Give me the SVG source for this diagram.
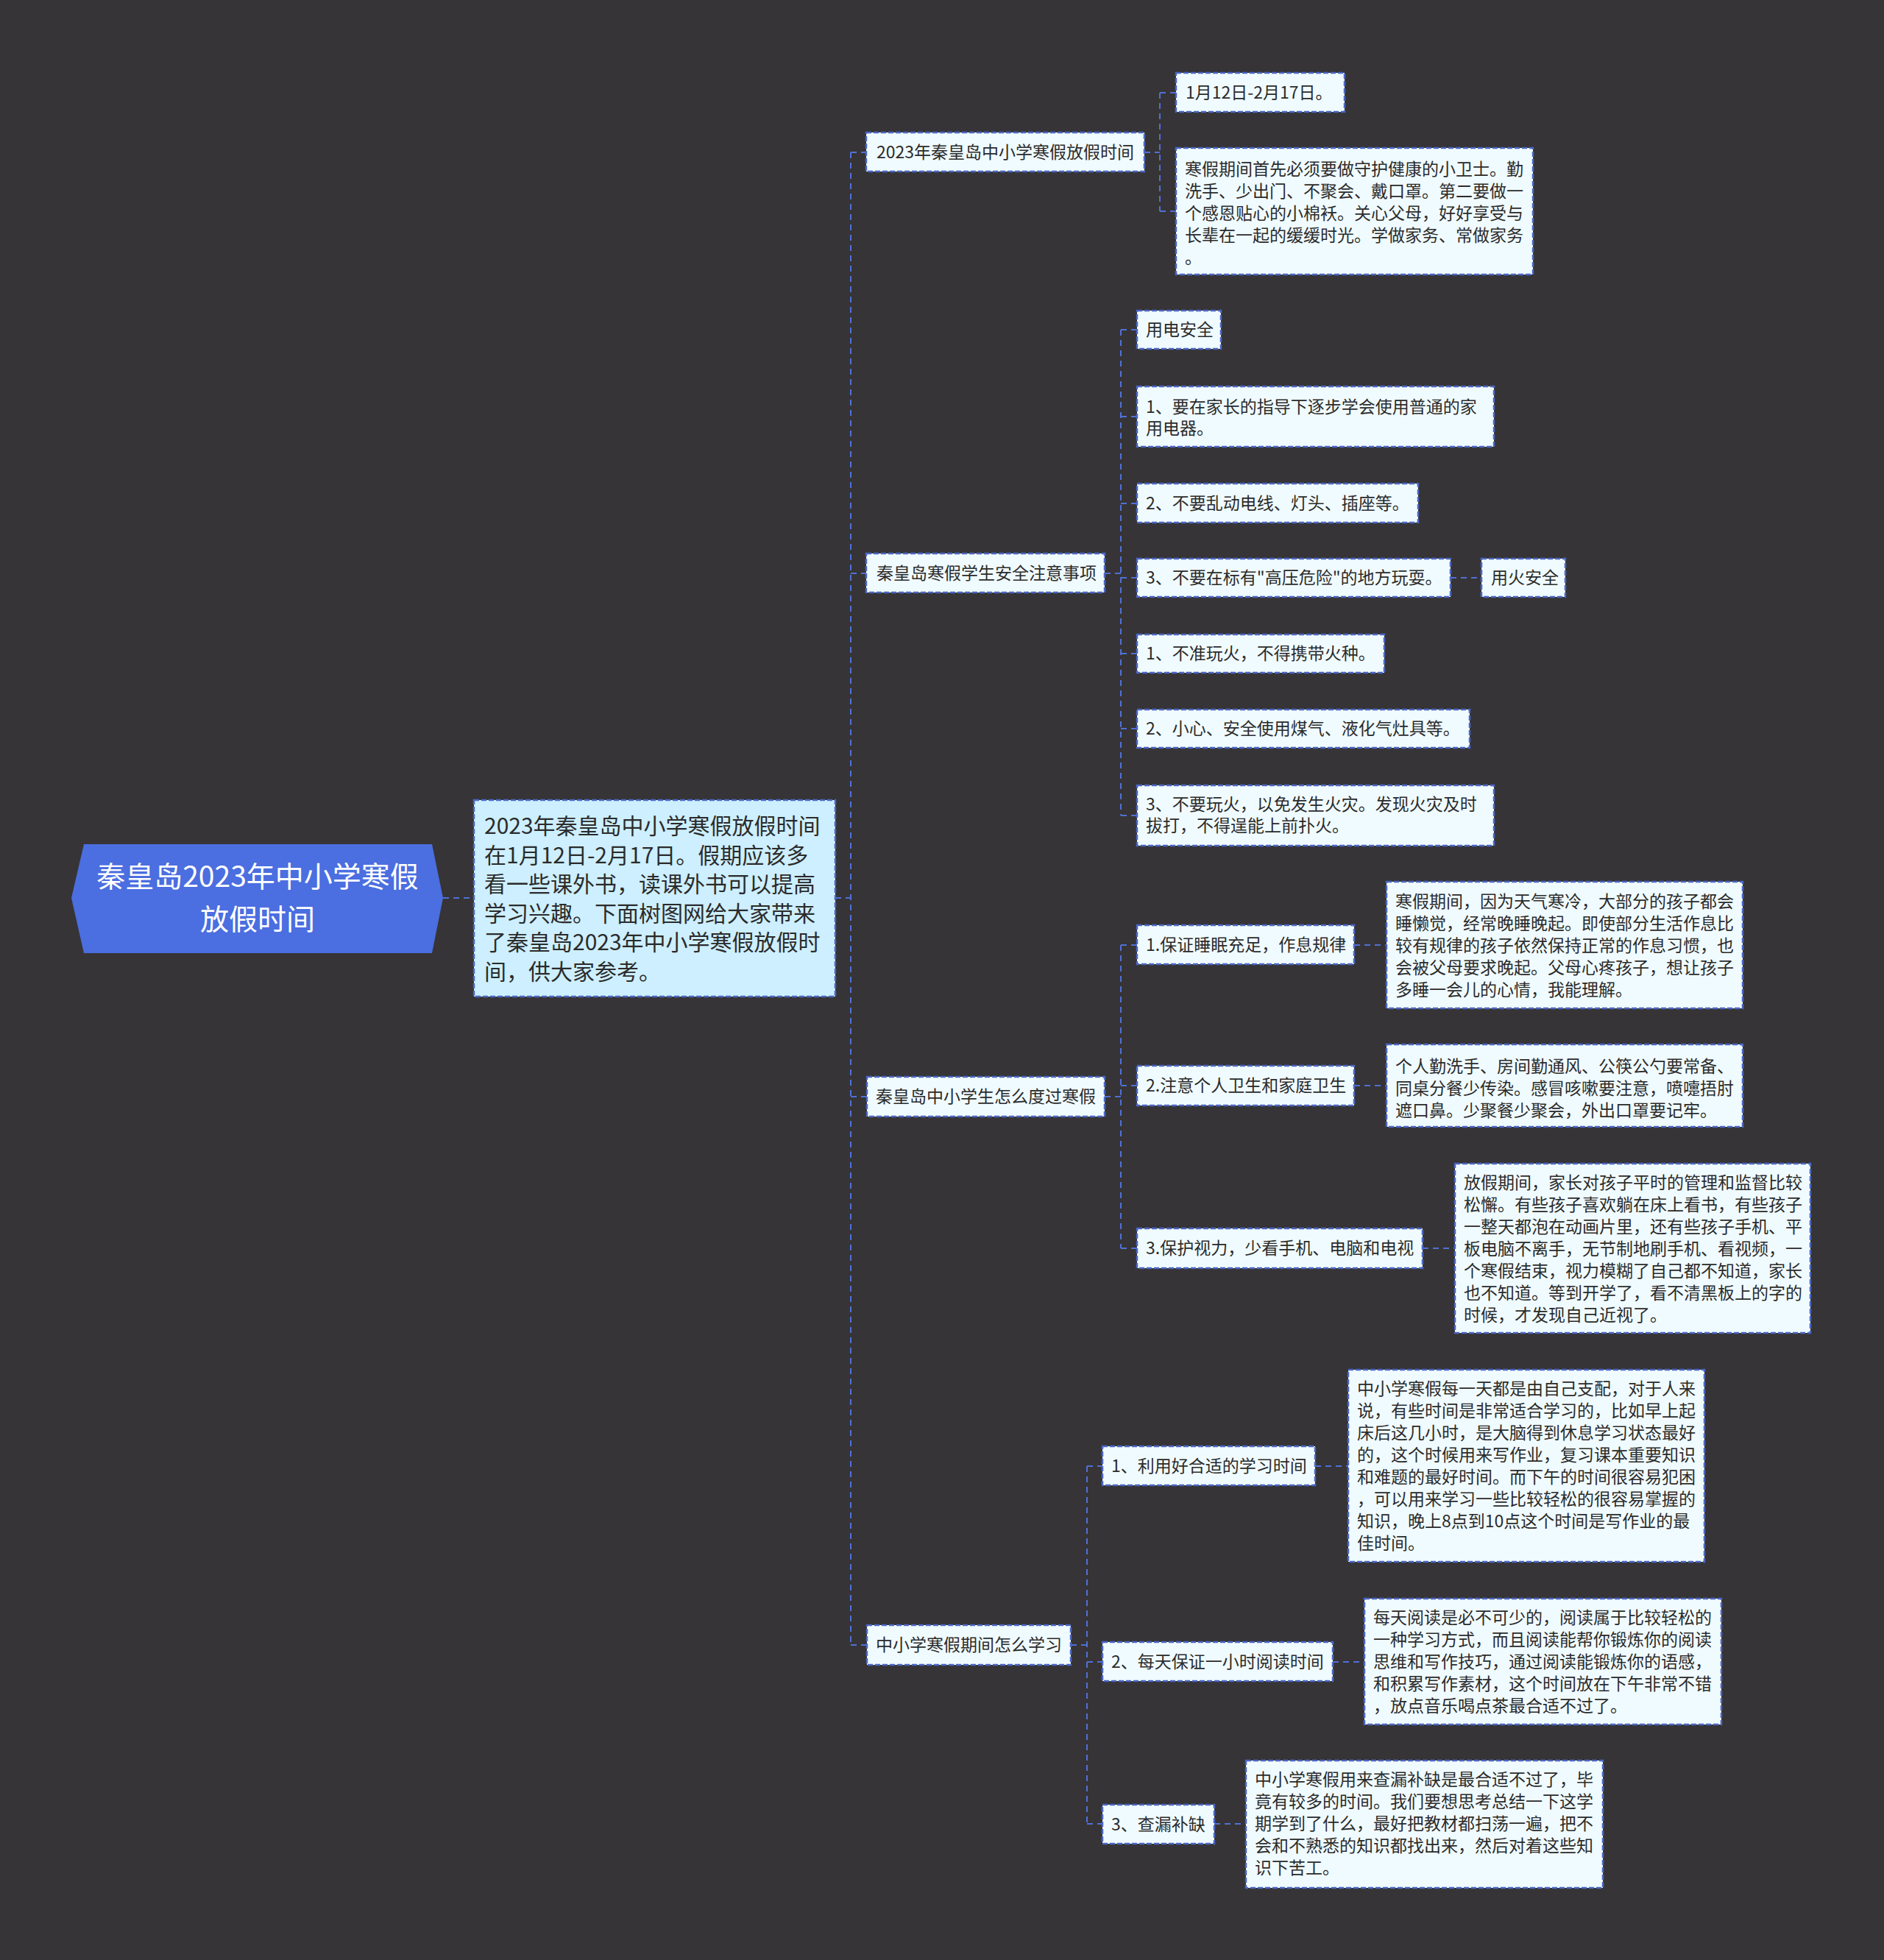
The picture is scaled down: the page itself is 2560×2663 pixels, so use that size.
<svg xmlns="http://www.w3.org/2000/svg" width="2560" height="2663" viewBox="0 0 2560 2663">
<style>
.bg{fill:#363436}
.box{fill:#f0fbff;stroke:#4a66c4;stroke-width:2.5;stroke-dasharray:7 3}
.main{fill:#cdefff;stroke:#4a66c4;stroke-width:2.5;stroke-dasharray:7 3}
.t{font-family:"Noto Sans CJK SC","Noto Sans",sans-serif;font-size:23px;fill:#2b2b2b}
.tm{font-family:"Noto Sans CJK SC","Noto Sans",sans-serif;font-size:30px;fill:#2b2b2b}
.tr{font-family:"Noto Sans CJK SC","Noto Sans",sans-serif;font-size:39px;fill:#ffffff;text-anchor:middle}
.c{fill:none;stroke:#5070d8;stroke-width:2;stroke-dasharray:8 6}
</style>
<rect class="bg" x="0" y="0" width="2560" height="2663"/>
<g id="connectors">
<path class="c" d="M602 1220H644"/>
<path class="c" d="M1135 1220H1156M1156 207V2235M1156 207H1177M1156 779H1177M1156 1490H1178M1156 2235H1178"/>
<path class="c" d="M1555 207H1576M1576 126V287M1576 126H1598M1576 287H1598"/>
<path class="c" d="M1501 779H1523M1523 448V1108M1523 448H1545M1523 566H1545M1523 684H1545M1523 785H1545M1523 888H1545M1523 990H1545M1523 1108H1545M1971 785H2013"/>
<path class="c" d="M1501 1490H1523M1523 1284V1696M1523 1284H1545M1523 1475H1545M1523 1696H1545M1840 1284H1884M1840 1475H1884M1933 1696H1977"/>
<path class="c" d="M1455 2235H1477M1477 1992V2478M1477 1992H1498M1477 2258H1498M1477 2478H1498M1787 1992H1832M1811 2258H1854M1650 2478H1693"/>
</g>
<g id="root">
<polygon points="97,1220 114,1147 587,1147 602,1220 587,1295 114,1295" fill="#4b6ee0"/>
<text class="tr" x="350" y="1205">秦皇岛2023年中小学寒假</text>
<text class="tr" x="350" y="1263">放假时间</text>
</g>
<g id="intro">
<rect class="main" x="644" y="1087" width="491" height="267"/>
<text class="tm" x="658" y="1133">2023年秦皇岛中小学寒假放假时间</text>
<text class="tm" x="658" y="1173">在1月12日-2月17日。假期应该多</text>
<text class="tm" x="658" y="1212">看一些课外书，读课外书可以提高</text>
<text class="tm" x="658" y="1252">学习兴趣。下面树图网给大家带来</text>
<text class="tm" x="658" y="1291">了秦皇岛2023年中小学寒假放假时</text>
<text class="tm" x="658" y="1331">间，供大家参考。</text>
</g>
<g id="n1">
<rect class="box" x="1177" y="180" width="378" height="53"/>
<text class="t" x="1191" y="215">2023年秦皇岛中小学寒假放假时间</text>
</g>
<g id="n1a">
<rect class="box" x="1598" y="99" width="229" height="53"/>
<text class="t" x="1611" y="134">1月12日-2月17日。</text>
</g>
<g id="n1b">
<rect class="box" x="1598" y="201" width="485" height="172"/>
<text class="t" x="1610" y="238">寒假期间首先必须要做守护健康的小卫士。勤</text>
<text class="t" x="1610" y="268">洗手、少出门、不聚会、戴口罩。第二要做一</text>
<text class="t" x="1610" y="298">个感恩贴心的小棉袄。关心父母，好好享受与</text>
<text class="t" x="1610" y="328">长辈在一起的缓缓时光。学做家务、常做家务</text>
<text class="t" x="1610" y="358">。</text>
</g>
<g id="n2">
<rect class="box" x="1177" y="752" width="324" height="53"/>
<text class="t" x="1191" y="787">秦皇岛寒假学生安全注意事项</text>
</g>
<g id="n2a">
<rect class="box" x="1545" y="422" width="114" height="52"/>
<text class="t" x="1557" y="456">用电安全</text>
</g>
<g id="n2b">
<rect class="box" x="1545" y="525" width="485" height="82"/>
<text class="t" x="1557" y="561">1、要在家长的指导下逐步学会使用普通的家</text>
<text class="t" x="1557" y="590">用电器。</text>
</g>
<g id="n2c">
<rect class="box" x="1545" y="657" width="382" height="53"/>
<text class="t" x="1557" y="692">2、不要乱动电线、灯头、插座等。</text>
</g>
<g id="n2d">
<rect class="box" x="1545" y="759" width="426" height="52"/>
<text class="t" x="1557" y="793">3、不要在标有"高压危险"的地方玩耍。</text>
</g>
<g id="n2d1">
<rect class="box" x="2013" y="759" width="114" height="52"/>
<text class="t" x="2026" y="793">用火安全</text>
</g>
<g id="n2e">
<rect class="box" x="1545" y="862" width="336" height="52"/>
<text class="t" x="1557" y="896">1、不准玩火，不得携带火种。</text>
</g>
<g id="n2f">
<rect class="box" x="1545" y="964" width="452" height="52"/>
<text class="t" x="1557" y="998">2、小心、安全使用煤气、液化气灶具等。</text>
</g>
<g id="n2g">
<rect class="box" x="1545" y="1067" width="485" height="82"/>
<text class="t" x="1557" y="1101">3、不要玩火，以免发生火灾。发现火灾及时</text>
<text class="t" x="1557" y="1130">拔打，不得逞能上前扑火。</text>
</g>
<g id="n3">
<rect class="box" x="1178" y="1463" width="323" height="54"/>
<text class="t" x="1190" y="1498">秦皇岛中小学生怎么度过寒假</text>
</g>
<g id="n3a">
<rect class="box" x="1545" y="1257" width="295" height="53"/>
<text class="t" x="1557" y="1292">1.保证睡眠充足，作息规律</text>
</g>
<g id="n3a1">
<rect class="box" x="1884" y="1198" width="484" height="172"/>
<text class="t" x="1896" y="1233">寒假期间，因为天气寒冷，大部分的孩子都会</text>
<text class="t" x="1896" y="1263">睡懒觉，经常晚睡晚起。即使部分生活作息比</text>
<text class="t" x="1896" y="1293">较有规律的孩子依然保持正常的作息习惯，也</text>
<text class="t" x="1896" y="1323">会被父母要求晚起。父母心疼孩子，想让孩子</text>
<text class="t" x="1896" y="1353">多睡一会儿的心情，我能理解。</text>
</g>
<g id="n3b">
<rect class="box" x="1545" y="1448" width="295" height="54"/>
<text class="t" x="1557" y="1483">2.注意个人卫生和家庭卫生</text>
</g>
<g id="n3b1">
<rect class="box" x="1884" y="1419" width="484" height="112"/>
<text class="t" x="1896" y="1457">个人勤洗手、房间勤通风、公筷公勺要常备、</text>
<text class="t" x="1896" y="1487">同桌分餐少传染。感冒咳嗽要注意，喷嚏捂肘</text>
<text class="t" x="1896" y="1517">遮口鼻。少聚餐少聚会，外出口罩要记牢。</text>
</g>
<g id="n3c">
<rect class="box" x="1545" y="1669" width="388" height="54"/>
<text class="t" x="1557" y="1704">3.保护视力，少看手机、电脑和电视</text>
</g>
<g id="n3c1">
<rect class="box" x="1977" y="1581" width="483" height="230"/>
<text class="t" x="1989" y="1615">放假期间，家长对孩子平时的管理和监督比较</text>
<text class="t" x="1989" y="1645">松懈。有些孩子喜欢躺在床上看书，有些孩子</text>
<text class="t" x="1989" y="1675">一整天都泡在动画片里，还有些孩子手机、平</text>
<text class="t" x="1989" y="1705">板电脑不离手，无节制地刷手机、看视频，一</text>
<text class="t" x="1989" y="1735">个寒假结束，视力模糊了自己都不知道，家长</text>
<text class="t" x="1989" y="1765">也不知道。等到开学了，看不清黑板上的字的</text>
<text class="t" x="1989" y="1795">时候，才发现自己近视了。</text>
</g>
<g id="n4">
<rect class="box" x="1178" y="2208" width="277" height="54"/>
<text class="t" x="1190" y="2243">中小学寒假期间怎么学习</text>
</g>
<g id="n4a">
<rect class="box" x="1498" y="1965" width="289" height="53"/>
<text class="t" x="1510" y="2000">1、利用好合适的学习时间</text>
</g>
<g id="n4a1">
<rect class="box" x="1832" y="1861" width="484" height="261"/>
<text class="t" x="1844" y="1895">中小学寒假每一天都是由自己支配，对于人来</text>
<text class="t" x="1844" y="1925">说，有些时间是非常适合学习的，比如早上起</text>
<text class="t" x="1844" y="1955">床后这几小时，是大脑得到休息学习状态最好</text>
<text class="t" x="1844" y="1985">的，这个时候用来写作业，复习课本重要知识</text>
<text class="t" x="1844" y="2015">和难题的最好时间。而下午的时间很容易犯困</text>
<text class="t" x="1844" y="2045">，可以用来学习一些比较轻松的很容易掌握的</text>
<text class="t" x="1844" y="2075">知识，晚上8点到10点这个时间是写作业的最</text>
<text class="t" x="1844" y="2105">佳时间。</text>
</g>
<g id="n4b">
<rect class="box" x="1498" y="2231" width="313" height="53"/>
<text class="t" x="1510" y="2266">2、每天保证一小时阅读时间</text>
</g>
<g id="n4b1">
<rect class="box" x="1854" y="2172" width="485" height="171"/>
<text class="t" x="1866" y="2206">每天阅读是必不可少的，阅读属于比较轻松的</text>
<text class="t" x="1866" y="2236">一种学习方式，而且阅读能帮你锻炼你的阅读</text>
<text class="t" x="1866" y="2266">思维和写作技巧，通过阅读能锻炼你的语感，</text>
<text class="t" x="1866" y="2296">和积累写作素材，这个时间放在下午非常不错</text>
<text class="t" x="1866" y="2326">，放点音乐喝点茶最合适不过了。</text>
</g>
<g id="n4c">
<rect class="box" x="1498" y="2452" width="152" height="53"/>
<text class="t" x="1510" y="2487">3、查漏补缺</text>
</g>
<g id="n4c1">
<rect class="box" x="1693" y="2392" width="485" height="173"/>
<text class="t" x="1705" y="2426">中小学寒假用来查漏补缺是最合适不过了，毕</text>
<text class="t" x="1705" y="2456">竟有较多的时间。我们要想思考总结一下这学</text>
<text class="t" x="1705" y="2486">期学到了什么，最好把教材都扫荡一遍，把不</text>
<text class="t" x="1705" y="2516">会和不熟悉的知识都找出来，然后对着这些知</text>
<text class="t" x="1705" y="2546">识下苦工。</text>
</g>
</svg>
